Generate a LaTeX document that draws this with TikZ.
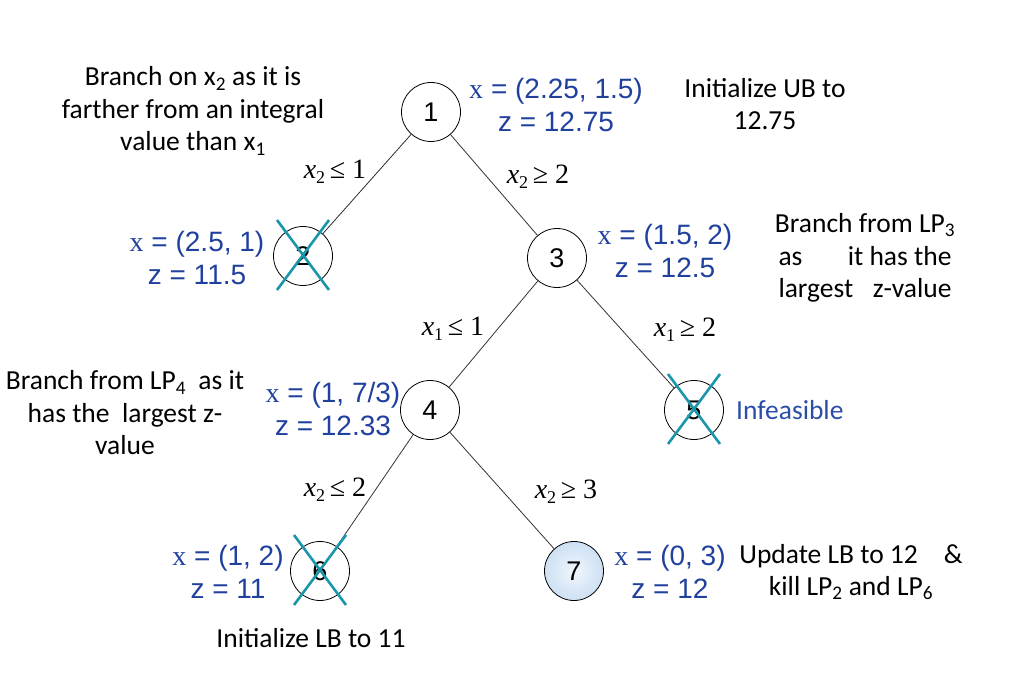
\RequirePackage{fix-cm}
\documentclass[tikz,border=0pt]{standalone}
\usepackage{fontspec}
\setmainfont{Carlito}
\newfontfamily\arialf{Liberation Sans}
\newfontfamily\timesf{Liberation Serif}
\definecolor{lpblue}{RGB}{32,64,158}
\definecolor{infblue}{RGB}{40,78,168}
\definecolor{killteal}{RGB}{26,150,170}
\definecolor{nodein}{RGB}{240,246,252}
\definecolor{nodeout}{RGB}{205,224,243}
\newcommand{\brl}[3]{{\itshape #1}\raisebox{-5pt}{\fontsize{18}{18}\selectfont #2}\,#3}
\begin{document}
\begin{tikzpicture}[x=1pt,y=-1pt,
  tnode/.style={circle, draw=black, line width=0.8pt, minimum size=59pt, inner sep=0pt,
    font=\arialf\fontsize{27}{27}\selectfont},
  note/.style={align=center, inner sep=0pt, text=black, font=\fontsize{27.5}{32.5}\selectfont},
  bluetxt/.style={align=center, inner sep=0pt, text=lpblue, font=\arialf\fontsize{28}{33}\selectfont},
  lbl/.style={inner sep=0pt, font=\timesf\fontsize{28}{28}\selectfont},
  kill/.style={draw=killteal, line width=2.6pt},
  edge/.style={draw=black!80, line width=0.8pt}]
\useasboundingbox (0,0) rectangle (1013,674);

% tree nodes
\node[tnode] (n1) at (431,112) {1};
\node[tnode] (n2) at (303,256) {2};
\node[tnode] (n3) at (557,258) {3};
\node[tnode] (n4) at (430,410) {4};
\node[tnode] (n5) at (694,410) {5};
\node[tnode] (n6) at (320,571) {6};
\node[tnode, shading=radial, inner color=nodein, outer color=nodeout] (n7) at (574,571) {7};

% edges
\draw[edge] (n1) -- (n2);
\draw[edge] (n1) -- (n3);
\draw[edge] (n3) -- (n4);
\draw[edge] (n3) -- (n5);
\draw[edge] (n4) -- (n6);
\draw[edge] (n4) -- (n7);

% kill crosses
\foreach \n in {n2,n5,n6}{
  \draw[kill] ([shift={(-26,-36)}]\n.center) -- ([shift={(26,34)}]\n.center);
  \draw[kill] ([shift={(26,-36)}]\n.center) -- ([shift={(-26,34)}]\n.center);
}

% branch labels
\node[lbl] (b12) at (335,172) {\brl{x}{2}{≤ 1}};
\node[lbl] (b13) at (538,177) {\brl{x}{2}{≥ 2}};
\node[lbl] (b34) at (453,329) {\brl{x}{1}{≤ 1}};
\node[lbl] (b35) at (685,330) {\brl{x}{1}{≥ 2}};
\node[lbl] (b46) at (335,490) {\brl{x}{2}{≤ 2}};
\node[lbl] (b47) at (566,492) {\brl{x}{2}{≥ 3}};

% LP solutions
\node[bluetxt] (s1) at (556,105) {{\timesf x} = (2.25, 1.5)\\z = 12.75};
\node[bluetxt] (s2) at (197,258) {{\timesf x} = (2.5, 1)\\z = 11.5};
\node[bluetxt] (s3) at (665,251) {{\timesf x} = (1.5, 2)\\z = 12.5};
\node[bluetxt] (s4) at (333,409) {{\timesf x} = (1, 7/3)\\z = 12.33};
\node[bluetxt] (s6) at (228,572) {{\timesf x} = (1, 2)\\z = 11};
\node[bluetxt] (s7) at (670,572) {{\timesf x} = (0, 3)\\z = 12};
\node[inner sep=0pt, anchor=west, text=infblue, font=\fontsize{27.5}{32.5}\selectfont] (inf) at (736,410) {Infeasible};

% notes
\node[note] (t1) at (193,111) {Branch on x\textsubscript{2} as it is\\farther from an integral\\value than x\textsubscript{1}};
\node[note] (t2) at (765,104) {Initialize UB to\\12.75};
\node[note] (t3) at (865,258) {Branch from LP\textsubscript{3}\\\makebox[173pt][l]{as\hfill it has the}\\\makebox[173pt][l]{largest\hfill z-value}};
\node[note] (t4) at (125,413) {Branch from LP\textsubscript{4}\ \ as it\\has the\ \ largest z-\\value};
\node[note] (t5) at (851,572) {Update LB to 12\hspace{26pt}\&\\kill LP\textsubscript{2} and LP\textsubscript{6}};
\node[note] (t6) at (311,638) {Initialize LB to 11};
\end{tikzpicture}
\end{document}
